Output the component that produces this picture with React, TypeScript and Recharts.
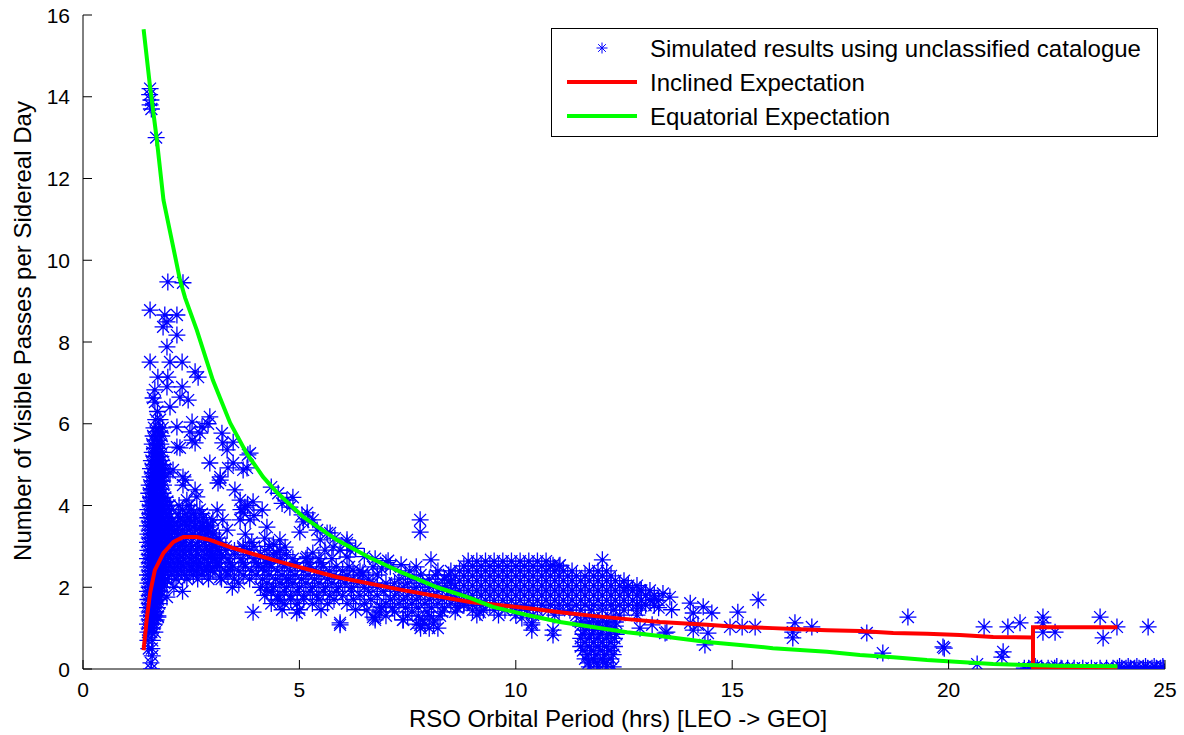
import React from "react";
import { ComposedChart, Scatter, XAxis, YAxis, Label } from "recharts";

const FONT = '"Liberation Sans", Arial, Helvetica, sans-serif';
const BLUE = "#0000ff";
const RED = "#ff0000";
const GREEN = "#00ff00";
const TICK = 9;

const xTicks = [0, 5, 10, 15, 20, 25];
const yTicks = [0, 2, 4, 6, 8, 10, 12, 14, 16];

// Equatorial expectation (green)
const equatorialPeriod = [1.4, 1.55, 1.7, 1.86, 2.05, 2.24, 2.36, 2.63, 3.0, 3.4, 3.78, 4.16, 4.5, 5.09, 5.86, 6.63, 7.39, 8.18, 8.94, 9.47, 10.26, 11.02, 11.78, 12.57, 13.33, 14.42, 15.18, 15.94, 17.19, 17.95, 18.72, 19.5, 20.26, 21.03, 21.8, 22.5, 23.9];
const equatorialPasses = [15.65, 14.24, 13.0, 11.47, 10.5, 9.52, 9.08, 8.29, 7.07, 6.02, 5.28, 4.7, 4.3, 3.72, 3.16, 2.72, 2.35, 2.0, 1.74, 1.52, 1.32, 1.15, 1.03, 0.9, 0.81, 0.66, 0.59, 0.51, 0.42, 0.34, 0.29, 0.22, 0.17, 0.12, 0.1, 0.08, 0.07];

// Inclined expectation (red)
const inclinedPeriod = [1.4, 1.47, 1.55, 1.66, 1.86, 2.09, 2.32, 2.63, 2.93, 3.4, 4.01, 4.55, 5.86, 7.39, 8.94, 10.25, 11.02, 11.78, 12.57, 13.33, 14.42, 15.18, 15.94, 16.4, 17.19, 17.95, 18.72, 19.5, 20.26, 21.03, 21.95, 21.95, 23.9];
const inclinedPasses = [0.46, 1.2, 1.86, 2.42, 2.84, 3.11, 3.23, 3.23, 3.16, 2.98, 2.79, 2.62, 2.25, 1.93, 1.64, 1.49, 1.39, 1.3, 1.22, 1.15, 1.08, 1.03, 1.0, 0.98, 0.95, 0.93, 0.88, 0.86, 0.83, 0.78, 0.77, 1.02, 1.02];
const inclinedDropPeriod = [21.95, 21.95, 23.9];
const inclinedDropPasses = [1.02, 0.03, 0.03];

// Simulated catalogue results: rows are [passes, periods[]], pairs are [period, passes]
type Row = [number, number[]];
type Pair = [number, number];

const leoColumn: Row[] = [
  [0.0, [1.58]],
  [0.15, [1.57]],
  [0.32, [1.6]],
  [0.5, [1.52, 1.59]],
  [0.7, [1.5, 1.6]],
  [0.9, [1.5, 1.58, 1.66]],
  [1.1, [1.49, 1.57, 1.65]],
  [1.3, [1.5, 1.58, 1.66, 1.73]],
  [1.5, [1.49, 1.56, 1.64, 1.72]],
  [1.7, [1.5, 1.57, 1.65, 1.73]],
  [1.9, [1.49, 1.56, 1.63, 1.7, 1.78]],
  [2.1, [1.5, 1.57, 1.64, 1.72, 1.8, 1.88]],
  [2.3, [1.49, 1.56, 1.63, 1.7, 1.78, 1.86]],
  [2.5, [1.5, 1.57, 1.64, 1.72, 1.8, 1.9]],
  [2.7, [1.49, 1.56, 1.63, 1.7, 1.78, 1.88]],
  [2.9, [1.5, 1.57, 1.64, 1.72, 1.8, 1.9, 2.0]],
  [3.1, [1.49, 1.56, 1.63, 1.7, 1.78, 1.88, 1.98]],
  [3.3, [1.5, 1.57, 1.64, 1.72, 1.8, 1.9, 2.0]],
  [3.5, [1.49, 1.56, 1.63, 1.7, 1.78, 1.88, 1.98, 2.08]],
  [3.7, [1.5, 1.57, 1.64, 1.72, 1.8, 1.9, 2.0]],
  [3.9, [1.5, 1.58, 1.66, 1.74, 1.82, 1.92, 2.04]],
  [4.1, [1.51, 1.59, 1.67, 1.75, 1.84, 1.95]],
  [4.3, [1.52, 1.6, 1.68, 1.76, 1.85]],
  [4.5, [1.53, 1.61, 1.69, 1.77, 1.86]],
  [4.7, [1.55, 1.63, 1.71, 1.79, 1.88]],
  [4.9, [1.56, 1.64, 1.72, 1.8, 1.9]],
  [5.1, [1.58, 1.66, 1.74, 1.82]],
  [5.3, [1.6, 1.68, 1.76, 1.84]],
  [5.5, [1.6, 1.7, 1.8]],
  [5.7, [1.62, 1.72, 1.82]],
  [5.9, [1.64, 1.74, 1.84]],
  [6.1, [1.68, 1.78]],
  [6.3, [1.72]],
];

const leoColumnFill: Row[] = [
  [1.0, [1.53, 1.61]],
  [1.2, [1.53, 1.61, 1.69]],
  [1.4, [1.53, 1.6, 1.68]],
  [1.6, [1.53, 1.6, 1.68, 1.76]],
  [1.8, [1.53, 1.6, 1.67, 1.74, 1.82]],
  [2.0, [1.53, 1.6, 1.68, 1.76, 1.84]],
  [2.2, [1.53, 1.6, 1.67, 1.74, 1.82, 1.9]],
  [2.4, [1.53, 1.6, 1.68, 1.76, 1.84]],
  [2.6, [1.53, 1.6, 1.67, 1.75, 1.84]],
  [2.8, [1.53, 1.6, 1.68, 1.76, 1.85, 1.95]],
  [3.0, [1.53, 1.6, 1.67, 1.75, 1.84, 1.94, 2.04]],
  [3.2, [1.53, 1.6, 1.68, 1.76, 1.85, 1.95, 2.05]],
  [3.4, [1.53, 1.6, 1.67, 1.75, 1.84, 1.94, 2.04]],
  [3.6, [1.53, 1.6, 1.68, 1.76, 1.85, 1.95, 2.05]],
  [3.8, [1.54, 1.62, 1.7, 1.78, 1.87, 1.97]],
  [4.0, [1.55, 1.63, 1.71, 1.8, 1.9, 2.0]],
  [4.2, [1.56, 1.64, 1.72, 1.8, 1.9]],
  [4.4, [1.57, 1.65, 1.73, 1.82]],
  [4.6, [1.59, 1.67, 1.75, 1.84]],
  [4.8, [1.6, 1.68, 1.76, 1.85]],
  [5.0, [1.62, 1.7, 1.78, 1.86]],
  [5.2, [1.64, 1.72, 1.8]],
  [5.4, [1.65, 1.75]],
  [5.6, [1.66, 1.76]],
  [5.8, [1.68, 1.78]],
];

const peakCluster: Row[] = [
  [2.2, [1.95, 2.15, 2.4, 2.65, 2.9]],
  [2.3, [2.05, 2.2, 2.35, 2.55, 2.75]],
  [2.4, [1.98, 2.12, 2.28, 2.45, 2.62, 2.8, 2.95]],
  [2.5, [2.03, 2.18, 2.33, 2.5, 2.68, 2.85, 3.05]],
  [2.6, [1.97, 2.1, 2.25, 2.4, 2.55, 2.72, 2.9, 3.1]],
  [2.7, [2.02, 2.17, 2.32, 2.47, 2.62, 2.8, 3.0, 3.2]],
  [2.8, [2.08, 2.22, 2.36, 2.5, 2.66, 2.82, 3.0, 3.2]],
  [2.9, [2.15, 2.3, 2.45, 2.6, 2.75, 2.92, 3.1, 3.3]],
  [3.0, [2.1, 2.24, 2.38, 2.52, 2.68, 2.85, 3.05]],
  [3.1, [2.18, 2.33, 2.5, 2.65, 2.82, 3.0, 3.15]],
  [3.2, [2.12, 2.26, 2.4, 2.8, 2.96, 3.15]],
  [3.3, [2.2, 2.36, 2.52, 2.68, 2.84, 3.0]],
  [3.4, [2.15, 2.3, 2.45, 2.6, 2.75, 2.9]],
  [3.5, [2.22, 2.4, 2.58, 2.76, 2.95]],
  [3.6, [2.18, 2.34, 2.5, 2.68, 2.85]],
  [3.7, [2.25, 2.42, 2.6, 2.78]],
  [3.8, [2.2, 2.38, 2.56, 2.75]],
  [3.9, [2.3, 2.5, 2.7]],
  [4.0, [2.22, 2.45]],
];

const midBand: Row[] = [
  [3.0, [3.0, 3.3, 3.7, 3.95, 4.3]],
  [2.9, [3.15, 3.5, 3.85, 4.2, 4.55]],
  [2.8, [2.95, 3.2, 3.5, 3.8, 4.1, 4.4, 4.7]],
  [2.7, [3.05, 3.35, 3.65, 3.95, 4.25, 4.55, 4.85, 5.15, 5.45, 5.75]],
  [2.6, [3.1, 3.4, 3.7, 4.0, 4.3, 4.6, 4.9, 5.2, 5.5]],
  [2.5, [3.15, 3.45, 3.75, 4.05, 4.35, 4.65, 4.95, 5.25, 5.55, 5.85, 6.15]],
  [2.4, [3.0, 3.3, 3.6, 3.9, 4.2, 4.5, 4.8, 5.1, 5.4, 5.7, 6.0, 6.4]],
  [2.3, [3.35, 3.7, 4.0, 4.3, 4.6, 4.9, 5.2, 5.5, 5.8, 6.1, 6.45, 6.8]],
  [2.2, [3.2, 3.5, 3.85, 4.15, 4.45, 4.75, 5.05, 5.35, 5.65, 5.95, 6.25, 6.6]],
  [2.1, [3.6, 4.25, 4.55, 4.85, 5.15, 5.45, 5.75, 6.05, 6.35, 6.7, 7.0]],
  [2.0, [3.45, 4.1, 4.4, 4.7, 5.0, 5.3, 5.6, 5.9, 6.2, 6.5, 6.8]],
  [1.9, [4.35, 4.65, 4.95, 5.25, 5.55, 5.85, 6.2, 6.6, 6.95]],
  [1.8, [4.2, 4.5, 4.8, 5.1, 5.4, 5.7, 6.0, 6.4, 6.8]],
  [1.7, [4.5, 4.8, 5.1, 5.45, 5.8, 6.25, 6.65]],
  [1.6, [4.35, 4.65, 4.95, 5.3, 5.65, 6.1, 6.5]],
  [1.45, [4.6, 5.0, 5.5, 6.3]],
];

const band7to9: Row[] = [
  [1.0, [7.8, 8.0, 8.2]],
  [1.1, [7.7, 7.9, 8.1]],
  [1.2, [6.75, 7.4, 7.85, 8.1]],
  [1.3, [7.0, 7.5, 7.75, 8.0, 8.25]],
  [1.4, [6.85, 7.2, 7.6, 7.95, 8.3, 8.6]],
  [1.5, [6.9, 7.15, 7.45, 7.75, 8.05, 8.35, 8.65]],
  [1.6, [7.0, 7.3, 7.6, 7.9, 8.2, 8.5, 8.8]],
  [1.7, [7.1, 7.4, 7.7, 8.0, 8.3, 8.6]],
  [1.8, [7.2, 7.5, 7.8, 8.1, 8.4]],
  [1.9, [7.3, 7.6, 7.9, 8.2, 8.5]],
  [2.0, [7.1, 7.4, 7.7, 8.0, 8.3]],
  [2.1, [7.2, 7.5, 7.85, 8.2, 8.5]],
  [2.2, [7.3, 7.65, 8.0, 8.35]],
  [2.3, [7.45, 7.8, 8.15, 8.45]],
  [2.4, [7.55, 8.2, 8.5]],
];

const meoHump: Row[] = [
  [2.64, [8.9, 9.1, 9.3, 9.5, 9.7, 9.9, 10.1, 10.3, 10.5, 10.7]],
  [2.52, [8.8, 9.0, 9.2, 9.4, 9.6, 9.8, 10.0, 10.2, 10.4, 10.6, 10.8, 11.0]],
  [2.4, [8.7, 8.9, 9.1, 9.3, 9.5, 9.7, 9.9, 10.1, 10.3, 10.5, 10.7, 10.9, 11.1, 11.3, 11.7, 11.9, 12.1]],
  [2.28, [8.6, 8.8, 9.0, 9.2, 9.4, 9.6, 9.8, 10.0, 10.2, 10.4, 10.6, 10.8, 11.0, 11.2, 11.4, 11.6, 11.8, 12.0, 12.2]],
  [2.16, [8.5, 8.7, 8.9, 9.1, 9.3, 9.5, 9.7, 9.9, 10.1, 10.3, 10.5, 10.7, 10.9, 11.1, 11.3, 11.5, 11.7, 11.9, 12.1, 12.3, 12.5]],
  [2.04, [8.6, 8.8, 9.0, 9.2, 9.4, 9.6, 9.8, 10.0, 10.2, 10.4, 10.6, 10.8, 11.0, 11.2, 11.4, 11.6, 11.8, 12.0, 12.2, 12.4, 12.6, 12.8]],
  [1.92, [8.5, 8.7, 8.9, 9.1, 9.3, 9.5, 9.7, 9.9, 10.1, 10.3, 10.5, 10.7, 10.9, 11.1, 11.3, 11.5, 11.7, 11.9, 12.1, 12.3, 12.5, 12.7, 12.9, 13.1]],
  [1.8, [8.6, 8.8, 9.0, 9.2, 9.4, 9.6, 9.8, 10.0, 10.2, 10.4, 10.6, 10.8, 11.0, 11.2, 11.4, 11.6, 11.8, 12.0, 12.2, 12.4, 12.6, 12.8, 13.0, 13.2]],
  [1.68, [8.7, 8.9, 9.1, 9.3, 9.5, 9.7, 9.9, 10.1, 10.3, 10.5, 10.7, 10.9, 11.1, 11.3, 11.5, 11.7, 11.9, 12.1, 12.3, 12.5, 12.7, 12.9, 13.1, 13.3]],
  [1.56, [8.8, 9.0, 9.2, 9.4, 9.6, 9.8, 10.0, 10.2, 10.4, 10.6, 10.8, 11.0, 11.2, 11.4, 11.6, 11.8, 12.0, 12.2, 12.4, 12.6, 12.8, 13.0, 13.2]],
  [1.44, [9.0, 9.25, 9.5, 9.75, 10.0, 10.25, 10.5, 10.75, 11.0, 11.25, 11.5, 11.75, 12.0, 12.25, 12.5, 12.8]],
  [1.32, [9.1, 9.6, 10.0, 10.4, 10.9, 11.4, 12.4, 12.8]],
];

const twelveHourDip: Row[] = [
  [1.25, [11.6, 11.8, 12.0, 12.2]],
  [1.15, [11.5, 11.7, 11.9, 12.1, 12.3]],
  [1.05, [11.5, 11.7, 11.9, 12.1, 12.3]],
  [0.95, [11.6, 11.8, 12.0, 12.2]],
  [0.85, [11.55, 11.75, 11.95, 12.15, 12.32]],
  [0.75, [11.5, 11.7, 11.9, 12.1, 12.28]],
  [0.65, [11.6, 11.8, 12.0, 12.2]],
  [0.55, [11.5, 11.7, 11.9, 12.1, 12.28]],
  [0.45, [11.55, 11.75, 11.95, 12.15]],
  [0.35, [11.65, 11.85, 12.05, 12.25]],
  [0.25, [11.6, 11.8, 12.0, 12.2]],
  [0.15, [11.68, 11.88, 12.08]],
  [0.05, [11.7, 11.9, 12.1, 12.25]],
];

const geoRow: Row[] = [
  [0.02, [21.75, 21.85, 21.95, 22.05, 22.15, 22.3, 22.45, 22.6, 22.75, 22.9, 23.1, 23.3, 23.5, 23.65, 23.8, 23.9, 24.0, 24.1, 24.2, 24.3, 24.4, 24.5, 24.6, 24.7, 24.8, 24.9, 24.97]],
  [0.06, [22.0, 22.5, 23.95, 24.15, 24.35, 24.55, 24.75, 24.95]],
];

const upperScatter: Pair[] = [
  [1.55, 14.2], [1.54, 14.05], [1.57, 13.92], [1.55, 13.8], [1.58, 13.7], [1.69, 13.0],
  [1.96, 9.47], [2.31, 9.45], [1.55, 8.78], [1.89, 8.66], [2.17, 8.66], [1.94, 8.49],
  [1.85, 8.37], [2.17, 8.17], [1.94, 7.88], [1.55, 7.51], [2.01, 7.51], [2.29, 7.51],
  [2.59, 7.27], [2.66, 7.14], [1.73, 7.14], [1.96, 7.14], [1.66, 6.83], [1.94, 6.9],
  [2.29, 6.9], [1.62, 6.63], [1.66, 6.53], [2.24, 6.65], [2.43, 6.58], [2.01, 6.41],
];

const midScatter: Pair[] = [
  [2.93, 6.17], [2.89, 6.0], [2.52, 6.04], [2.75, 5.92], [2.47, 5.8], [2.7, 5.77], [2.52, 5.6],
  [2.59, 5.53], [2.17, 5.92], [2.17, 5.43], [2.24, 5.41], [3.21, 5.77], [3.23, 5.53], [3.47, 5.55],
  [3.33, 5.36], [3.81, 5.24], [3.79, 4.92], [2.93, 5.04], [3.35, 4.92], [3.47, 5.04], [3.7, 4.87],
  [3.17, 4.7], [2.08, 4.87], [2.01, 4.8], [2.31, 4.7], [3.86, 5.28], [3.17, 4.62], [3.12, 4.55],
  [2.36, 4.62], [2.31, 4.5], [2.59, 4.38], [2.63, 4.21], [2.4, 4.13], [3.51, 4.38], [3.63, 4.13],
  [3.74, 3.96], [3.93, 4.09], [4.14, 3.89], [3.7, 3.82], [3.86, 3.65], [3.63, 3.65], [4.25, 3.47],
  [4.55, 3.16], [4.67, 2.98], [4.48, 2.84], [4.25, 2.59], [3.1, 3.89], [3.0, 3.65], [2.87, 3.47],
  [3.23, 3.65], [3.33, 3.4], [3.0, 3.33], [2.7, 3.47], [2.47, 3.65], [4.16, 2.5], [4.71, 2.18],
  [4.25, 1.93], [4.55, 1.69], [4.94, 1.37], [3.93, 1.39], [3.17, 2.25], [3.4, 2.42], [2.87, 2.5],
  [2.63, 2.59], [2.54, 2.42], [3.65, 3.9], [3.8, 4.0], [3.95, 3.75], [3.75, 3.3], [3.9, 3.1],
  [3.7, 2.95], [4.2, 3.2], [4.4, 3.05], [1.94, 1.76], [1.73, 1.27], [2.1, 2.0], [2.3, 1.9],
];

const greenHug: Pair[] = [
  [4.35, 4.45], [4.51, 4.3], [4.6, 4.05], [4.71, 4.13], [4.78, 3.96], [4.85, 4.2], [5.06, 3.77],
  [5.2, 3.65], [5.01, 3.35], [5.09, 3.6], [5.18, 3.82], [5.31, 3.65], [5.41, 3.4], [5.48, 3.16],
  [5.64, 3.33], [5.71, 3.33], [5.82, 3.2], [5.78, 2.98], [6.1, 3.08], [6.1, 3.16], [5.94, 2.91],
  [6.17, 2.91], [5.59, 2.91], [5.31, 2.84], [5.18, 2.74], [6.1, 2.74], [6.3, 2.95], [6.5, 2.75],
  [6.75, 2.7], [6.7, 2.5], [6.47, 2.35], [6.24, 2.42], [7.0, 2.6], [7.1, 2.5], [6.9, 2.45],
  [7.05, 2.65], [7.35, 2.55], [7.7, 2.5],
];

const lowOutliers: Pair[] = [
  [5.94, 1.08], [5.94, 1.13], [6.75, 1.25], [6.56, 1.44], [6.86, 1.52], [6.7, 1.27], [7.39, 1.2],
  [7.79, 1.08], [7.79, 3.65], [7.79, 3.35], [8.04, 2.67], [9.17, 1.39], [10.14, 1.25], [10.37, 1.13],
  [10.37, 0.95], [10.86, 0.95], [10.86, 0.83], [10.37, 1.08], [12.0, 2.67], [10.86, 2.54],
  [11.02, 2.54], [12.57, 2.0], [12.87, 1.93],
];

const tailScatter: Pair[] = [
  [13.0, 1.8], [13.2, 1.7], [13.4, 1.85], [13.56, 1.76], [13.3, 1.5], [13.6, 1.45], [12.9, 1.55],
  [14.03, 1.61], [14.1, 1.37], [14.33, 1.52], [14.53, 1.37], [14.03, 1.13], [14.1, 0.95],
  [14.21, 1.08], [14.44, 0.88], [14.37, 0.59], [13.49, 0.9], [13.15, 1.08], [12.87, 1.0],
  [14.95, 1.03], [15.23, 1.03], [15.53, 1.03], [15.13, 1.39], [15.6, 1.69], [13.45, 0.88],
  [16.45, 1.13], [16.4, 0.9], [16.4, 0.76], [16.84, 1.03], [18.11, 0.88], [18.48, 0.39],
  [19.06, 1.27], [19.87, 0.54], [19.9, 0.51], [20.66, 0.12], [20.82, 1.03], [21.37, 1.03],
  [21.65, 1.13], [21.26, 0.42], [21.23, 0.29], [22.18, 1.27], [22.18, 1.13], [22.18, 0.9],
  [22.46, 0.9], [23.5, 1.27], [23.57, 0.76], [23.89, 1.03], [24.61, 1.03],
];

const fromRows = (rows: Row[]) => rows.flatMap(([y, xs]) => xs.map((x) => ({ x, y })));
const fromPairs = (pairs: Pair[]) => pairs.map(([x, y]) => ({ x, y }));
const zipXY = (xs: number[], ys: number[]) => xs.map((x, i) => ({ x, y: ys[i] }));

const catalogue = [
  ...fromRows(leoColumn),
  ...fromRows(leoColumnFill),
  ...fromRows(peakCluster),
  ...fromRows(midBand),
  ...fromRows(band7to9),
  ...fromRows(meoHump),
  ...fromRows(twelveHourDip),
  ...fromRows(geoRow),
  ...fromPairs(upperScatter),
  ...fromPairs(midScatter),
  ...fromPairs(greenHug),
  ...fromPairs(lowOutliers),
  ...fromPairs(tailScatter),
];
const equatorial = zipXY(equatorialPeriod, equatorialPasses);
const inclined = zipXY(inclinedPeriod, inclinedPasses);
const inclinedDrop = zipXY(inclinedDropPeriod, inclinedDropPasses);

function asteriskPath(cx: number, cy: number, r: number) {
  const d = r * 0.7;
  return `M${cx - r},${cy}H${cx + r}M${cx},${cy - r}V${cy + r}M${cx - d},${cy - d}L${cx + d},${cy + d}M${cx - d},${cy + d}L${cx + d},${cy - d}`;
}

function Asterisk(props: any) {
  const { cx, cy } = props;
  if (cx == null || cy == null) return <g />;
  return <path d={asteriskPath(cx, cy, 8.5)} stroke={BLUE} strokeWidth={1.3} fill="none" />;
}

const NoDot = () => <g />;

function BottomTick({ x, y, payload }: any) {
  return (
    <g>
      <line x1={x} x2={x} y1={y} y2={y - TICK} stroke="#000" />
      <text x={x} y={y + 28} textAnchor="middle" fontSize={21} fontFamily={FONT} fill="#000">
        {payload.value}
      </text>
    </g>
  );
}

function TopTick({ x, y }: any) {
  return <line x1={x} x2={x} y1={y} y2={y + TICK} stroke="#000" />;
}

function LeftTick({ x, y, payload }: any) {
  return (
    <g>
      <line x1={x} x2={x + TICK} y1={y} y2={y} stroke="#000" />
      <text x={x - 13} y={y + 7.5} textAnchor="end" fontSize={21} fontFamily={FONT} fill="#000">
        {payload.value}
      </text>
    </g>
  );
}

function RightTick({ x, y }: any) {
  return <line x1={x} x2={x - TICK} y1={y} y2={y} stroke="#000" />;
}

function XTitle({ viewBox }: any) {
  return (
    <text x={viewBox.x + viewBox.width / 2 - 6} y={viewBox.y + 58} textAnchor="middle" fontSize={24} fontFamily={FONT} fill="#000">
      RSO Orbital Period (hrs) [LEO -&gt; GEO]
    </text>
  );
}

function YTitle({ viewBox }: any) {
  const cy = viewBox.y + viewBox.height / 2 - 11;
  return (
    <text x={31} y={cy} transform={`rotate(-90 31 ${cy})`} textAnchor="middle" fontSize={24} fontFamily={FONT} fill="#000">
      Number of Visible Passes per Sidereal Day
    </text>
  );
}

function LegendBox() {
  return (
    <svg width={1184} height={735} style={{ position: "absolute", left: 0, top: 0, pointerEvents: "none" }}>
      <rect x={551.5} y={28.5} width={606} height={108} fill="#fff" stroke="#000" />
      <path d={asteriskPath(602, 48, 5.5)} stroke={BLUE} strokeWidth={1} fill="none" />
      <text x={650} y={57} fontSize={24} fontFamily={FONT} fill="#000">Simulated results using unclassified catalogue</text>
      <line x1={567} x2={637} y1={82} y2={82} stroke={RED} strokeWidth={4} />
      <text x={650} y={91} fontSize={24} fontFamily={FONT} fill="#000">Inclined Expectation</text>
      <line x1={567} x2={637} y1={116} y2={116} stroke={GREEN} strokeWidth={4} />
      <text x={650} y={125} fontSize={24} fontFamily={FONT} fill="#000">Equatorial Expectation</text>
    </svg>
  );
}

export default function App() {
  return (
    <div style={{ position: "absolute", left: 0, top: 0, width: 1184, height: 735, background: "#fff" }}>
      <ComposedChart width={1184} height={735} margin={{ top: 15, right: 19, bottom: 0, left: 0 }}>
        <XAxis xAxisId="b" type="number" dataKey="x" domain={[0, 25]} ticks={xTicks} allowDataOverflow
          height={66} tickSize={0} tickMargin={0} tickLine={false} axisLine={{ stroke: "#000" }} tick={<BottomTick />} interval={0}>
          <Label content={<XTitle />} />
        </XAxis>
        <XAxis xAxisId="t" orientation="top" type="number" dataKey="x" domain={[0, 25]} ticks={xTicks} allowDataOverflow
          height={0} tickSize={0} tickMargin={0} tickLine={false} axisLine={{ stroke: "#000" }} tick={<TopTick />} interval={0} />
        <YAxis yAxisId="l" type="number" dataKey="y" domain={[0, 16]} ticks={yTicks} allowDataOverflow
          width={83} tickSize={0} tickMargin={0} tickLine={false} axisLine={{ stroke: "#000" }} tick={<LeftTick />} interval={0}>
          <Label content={<YTitle />} />
        </YAxis>
        <YAxis yAxisId="r" orientation="right" type="number" dataKey="y" domain={[0, 16]} ticks={yTicks} allowDataOverflow
          width={0} tickSize={0} tickMargin={0} tickLine={false} axisLine={{ stroke: "#000" }} tick={<RightTick />} interval={0} />
        <Scatter xAxisId="b" yAxisId="l" data={catalogue} shape={<Asterisk />} isAnimationActive={false} />
        <Scatter xAxisId="b" yAxisId="l" data={inclined} line={{ stroke: RED, strokeWidth: 4 }} lineType="joint" shape={<NoDot />} isAnimationActive={false} />
        <Scatter xAxisId="b" yAxisId="l" data={inclinedDrop} line={{ stroke: RED, strokeWidth: 4 }} lineType="joint" shape={<NoDot />} isAnimationActive={false} />
        <Scatter xAxisId="b" yAxisId="l" data={equatorial} line={{ stroke: GREEN, strokeWidth: 4 }} lineType="joint" shape={<NoDot />} isAnimationActive={false} />
      </ComposedChart>
      <LegendBox />
    </div>
  );
}
